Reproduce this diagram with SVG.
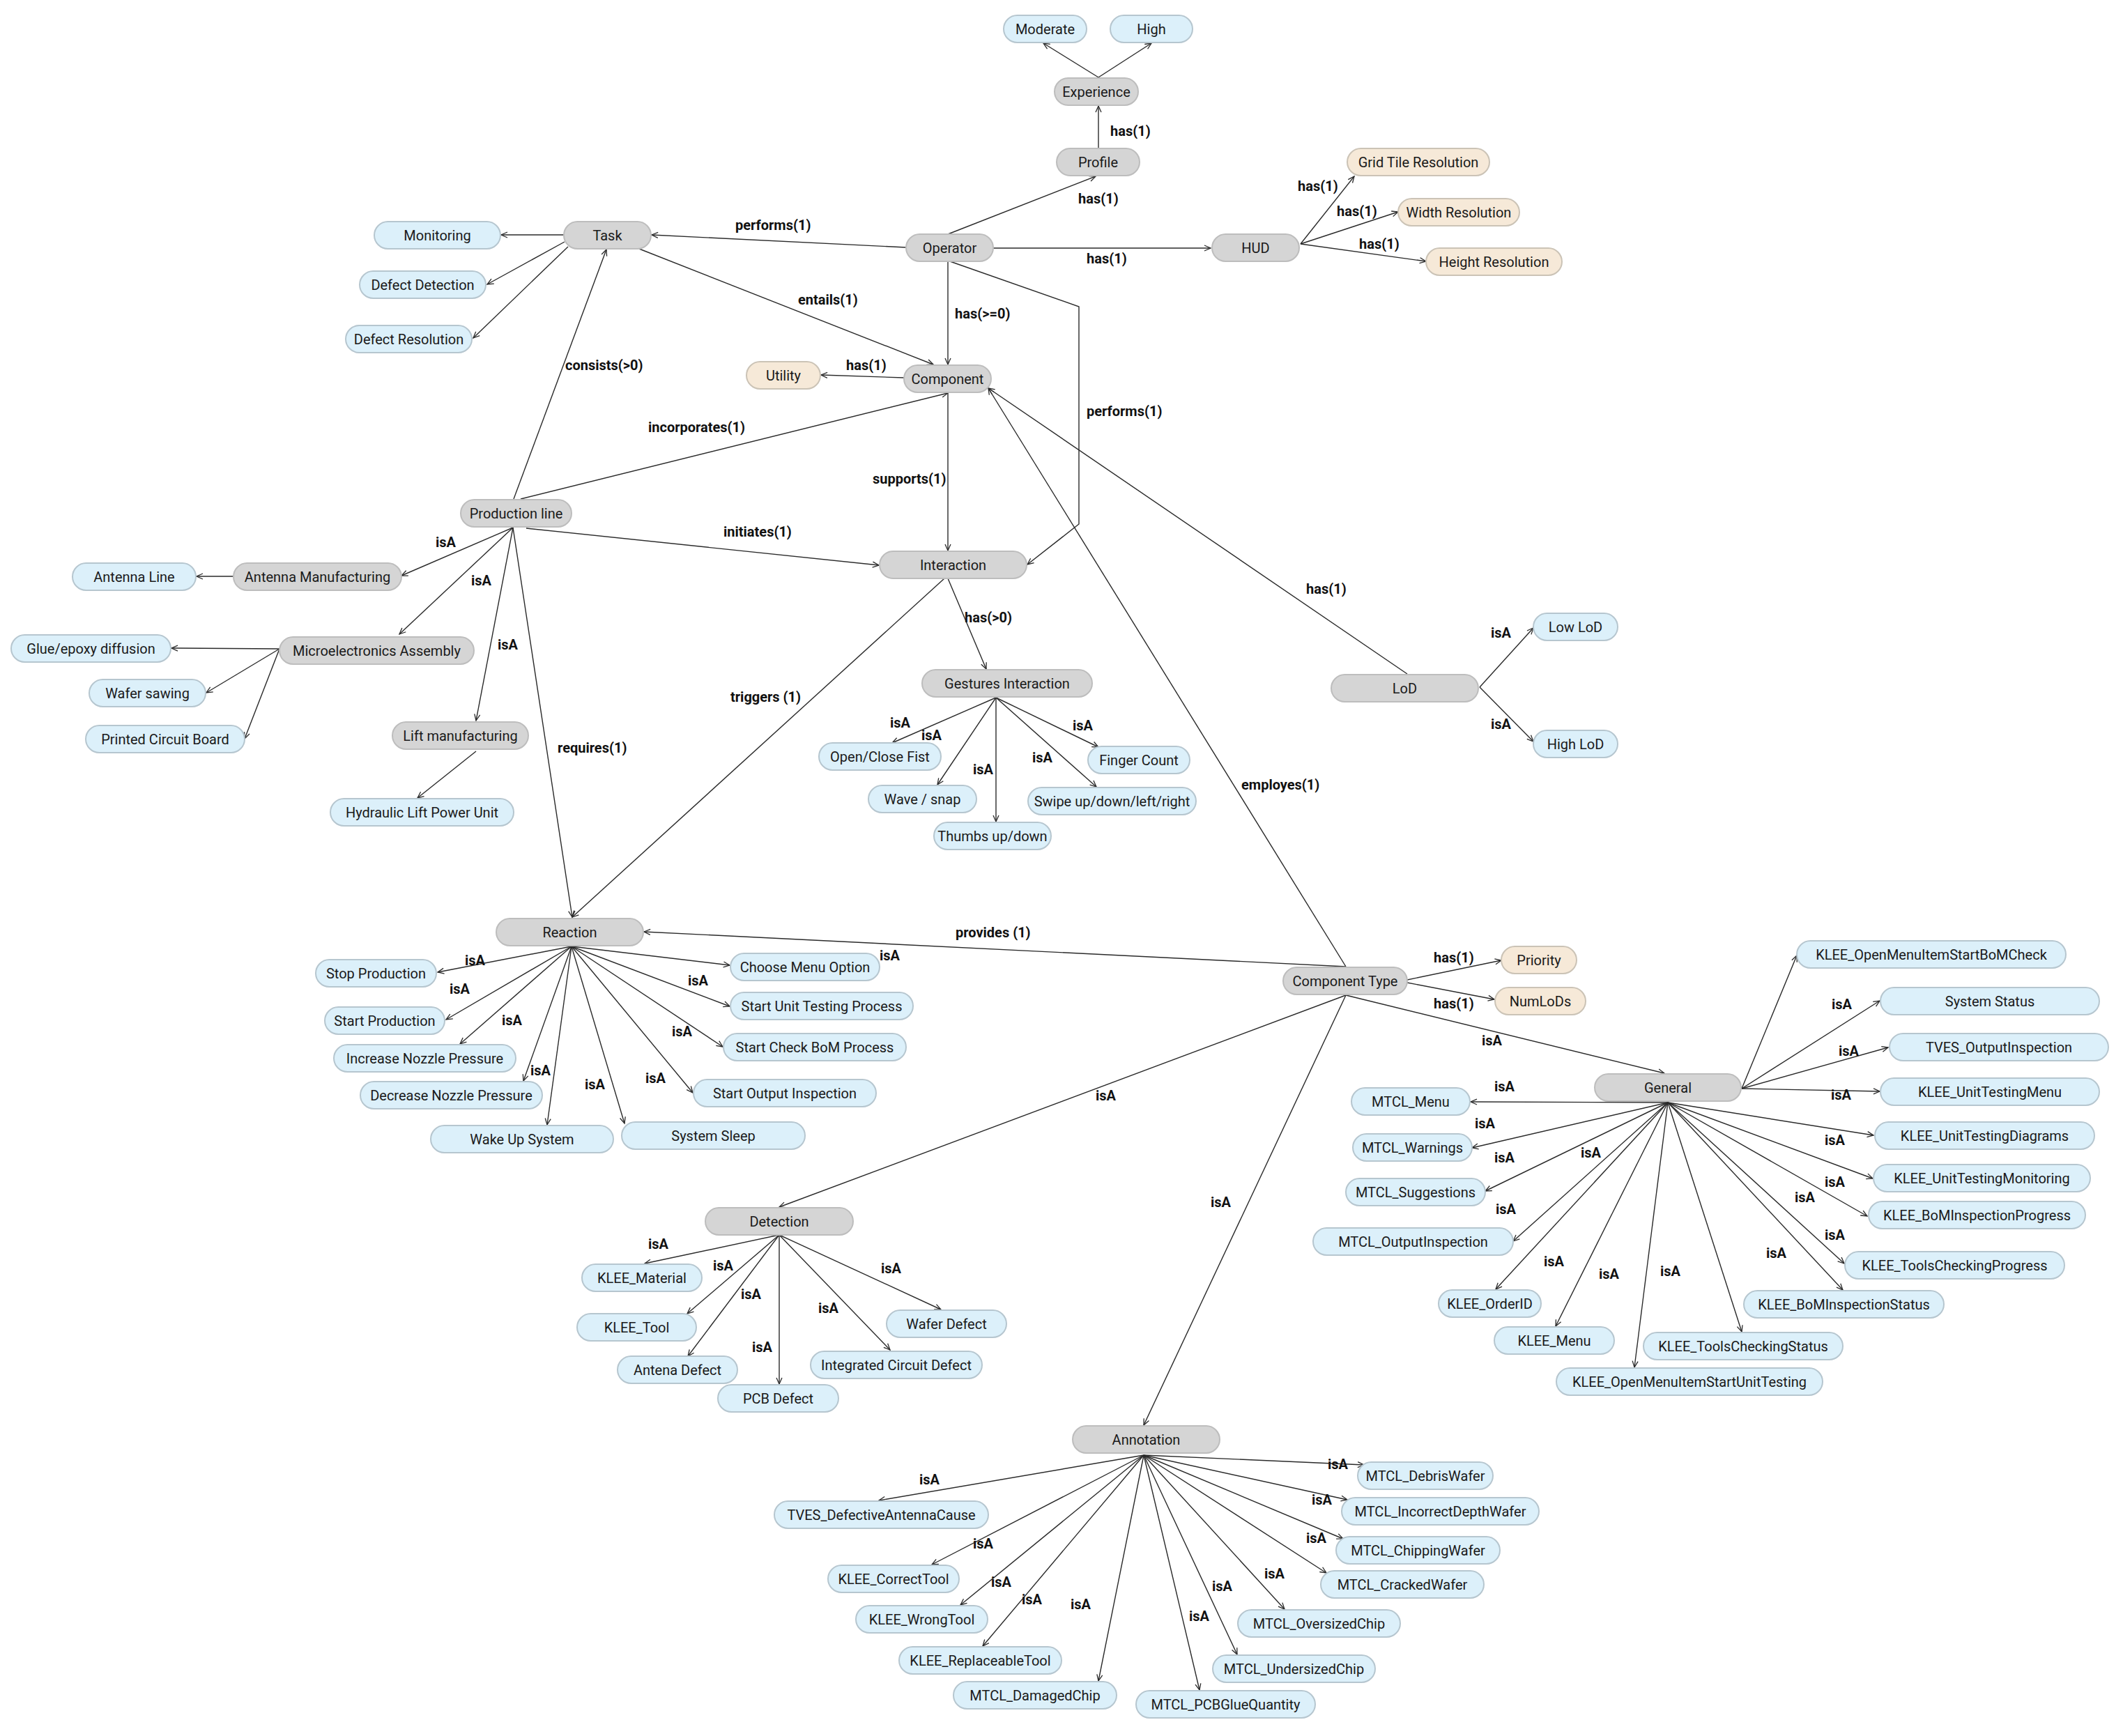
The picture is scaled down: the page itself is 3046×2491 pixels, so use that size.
<svg xmlns="http://www.w3.org/2000/svg" width="3046" height="2491" viewBox="0 0 3046 2491">
<style>
.c rect{fill:#d5d5d5;stroke:#bdbdbd;stroke-width:2}
.i rect{fill:#dcf0fa;stroke:#b6c6cf;stroke-width:2}
.p rect{fill:#f6e9d8;stroke:#cbc3b6;stroke-width:2}
.c text,.i text,.p text{font-family:Roboto,"Liberation Sans",sans-serif;font-size:20px;fill:#1a1a1a;text-anchor:middle}
#edges line,#edges polyline{stroke:#2a2a2a;stroke-width:1.4;fill:none;marker-end:url(#a)}
#labels text{font-family:Roboto,"Liberation Sans",sans-serif;font-size:20px;font-weight:bold;fill:#111}
</style>
<defs>
<marker id="a" markerWidth="12" markerHeight="12" refX="10" refY="5" orient="auto" markerUnits="userSpaceOnUse">
<path d="M1,1 L10,5 L1,9" fill="none" stroke="#2a2a2a" stroke-width="1.3"/>
</marker>
</defs>
<rect width="3046" height="2491" fill="#fff"/>
<g id="edges">
<line x1="1576" y1="111" x2="1497" y2="62"/>
<line x1="1576" y1="111" x2="1652" y2="62"/>
<line x1="1576" y1="213" x2="1576" y2="152"/>
<line x1="1360" y1="336" x2="1572" y2="253"/>
<line x1="1300" y1="355" x2="935" y2="337"/>
<line x1="1425" y1="356" x2="1737" y2="356"/>
<line x1="1866" y1="350" x2="1943" y2="253"/>
<line x1="1866" y1="350" x2="2006" y2="304"/>
<line x1="1866" y1="350" x2="2046" y2="375"/>
<line x1="809" y1="337" x2="719" y2="337"/>
<line x1="810" y1="347" x2="699" y2="408"/>
<line x1="815" y1="354" x2="679" y2="485"/>
<line x1="917" y1="357" x2="1339" y2="523"/>
<line x1="1360" y1="374" x2="1360" y2="523"/>
<polyline points="1360,374 1548,440 1548,752 1474,810"/>
<line x1="1297" y1="542" x2="1178" y2="538"/>
<line x1="1360" y1="563" x2="1360" y2="790"/>
<line x1="737" y1="716" x2="870" y2="358"/>
<line x1="747" y1="716" x2="1360" y2="564"/>
<line x1="755" y1="758" x2="1261" y2="811"/>
<line x1="736" y1="757" x2="576" y2="826"/>
<line x1="335" y1="827" x2="282" y2="827"/>
<line x1="736" y1="757" x2="573" y2="910"/>
<line x1="736" y1="757" x2="683" y2="1034"/>
<line x1="736" y1="757" x2="821" y2="1316"/>
<line x1="401" y1="931" x2="246" y2="930"/>
<line x1="401" y1="931" x2="296" y2="994"/>
<line x1="401" y1="931" x2="351" y2="1060"/>
<line x1="683" y1="1078" x2="599" y2="1145"/>
<line x1="1355" y1="830" x2="821" y2="1316"/>
<line x1="1360" y1="830" x2="1415" y2="960"/>
<line x1="1429" y1="1001" x2="1280" y2="1066"/>
<line x1="1429" y1="1001" x2="1345" y2="1126"/>
<line x1="1429" y1="1001" x2="1429" y2="1179"/>
<line x1="1429" y1="1001" x2="1573" y2="1129"/>
<line x1="1429" y1="1001" x2="1576" y2="1072"/>
<line x1="2019" y1="967" x2="1418" y2="557"/>
<line x1="2123" y1="986" x2="2200" y2="901"/>
<line x1="2123" y1="986" x2="2200" y2="1064"/>
<line x1="1931" y1="1387" x2="1418" y2="557"/>
<line x1="1931" y1="1387" x2="924" y2="1337"/>
<line x1="2019" y1="1406" x2="2154" y2="1378"/>
<line x1="2019" y1="1410" x2="2144" y2="1434"/>
<line x1="1931" y1="1428" x2="2388" y2="1540"/>
<line x1="1931" y1="1428" x2="1118" y2="1732"/>
<line x1="1931" y1="1428" x2="1641" y2="2045"/>
<line x1="820" y1="1358" x2="628" y2="1395"/>
<line x1="820" y1="1358" x2="640" y2="1463"/>
<line x1="820" y1="1358" x2="660" y2="1498"/>
<line x1="820" y1="1358" x2="751" y2="1551"/>
<line x1="820" y1="1358" x2="785" y2="1614"/>
<line x1="820" y1="1358" x2="896" y2="1612"/>
<line x1="820" y1="1358" x2="994" y2="1568"/>
<line x1="820" y1="1358" x2="1037" y2="1502"/>
<line x1="820" y1="1358" x2="1047" y2="1444"/>
<line x1="820" y1="1358" x2="1047" y2="1385"/>
<line x1="2393" y1="1582" x2="2110" y2="1581"/>
<line x1="2393" y1="1582" x2="2112" y2="1647"/>
<line x1="2393" y1="1582" x2="2131" y2="1709"/>
<line x1="2393" y1="1582" x2="2171" y2="1781"/>
<line x1="2393" y1="1582" x2="2146" y2="1850"/>
<line x1="2393" y1="1582" x2="2232" y2="1903"/>
<line x1="2393" y1="1582" x2="2345" y2="1962"/>
<line x1="2393" y1="1582" x2="2499" y2="1911"/>
<line x1="2393" y1="1582" x2="2644" y2="1851"/>
<line x1="2393" y1="1582" x2="2646" y2="1813"/>
<line x1="2393" y1="1582" x2="2679" y2="1745"/>
<line x1="2393" y1="1582" x2="2687" y2="1691"/>
<line x1="2393" y1="1582" x2="2688" y2="1629"/>
<line x1="2499" y1="1562" x2="2697" y2="1566"/>
<line x1="2499" y1="1562" x2="2709" y2="1503"/>
<line x1="2499" y1="1562" x2="2697" y2="1436"/>
<line x1="2499" y1="1562" x2="2578" y2="1371"/>
<line x1="1118" y1="1772" x2="925" y2="1813"/>
<line x1="1118" y1="1772" x2="986" y2="1885"/>
<line x1="1118" y1="1772" x2="987" y2="1946"/>
<line x1="1118" y1="1772" x2="1118" y2="1986"/>
<line x1="1118" y1="1772" x2="1277" y2="1937"/>
<line x1="1118" y1="1772" x2="1350" y2="1879"/>
<line x1="1641" y1="2088" x2="1261" y2="2153"/>
<line x1="1641" y1="2088" x2="1337" y2="2245"/>
<line x1="1641" y1="2088" x2="1378" y2="2303"/>
<line x1="1641" y1="2088" x2="1410" y2="2362"/>
<line x1="1641" y1="2088" x2="1576" y2="2412"/>
<line x1="1641" y1="2088" x2="1721" y2="2425"/>
<line x1="1641" y1="2088" x2="1775" y2="2374"/>
<line x1="1641" y1="2088" x2="1843" y2="2309"/>
<line x1="1641" y1="2088" x2="1903" y2="2257"/>
<line x1="1641" y1="2088" x2="1927" y2="2208"/>
<line x1="1641" y1="2088" x2="1933" y2="2152"/>
<line x1="1641" y1="2088" x2="1957" y2="2102"/>
</g>
<g id="labels">
<text x="1593" y="195">has(1)</text>
<text x="1547" y="292">has(1)</text>
<text x="1055" y="330">performs(1)</text>
<text x="1559" y="378">has(1)</text>
<text x="1862" y="274">has(1)</text>
<text x="1918" y="310">has(1)</text>
<text x="1950" y="357">has(1)</text>
<text x="1145" y="437">entails(1)</text>
<text x="1370" y="457">has(&gt;=0)</text>
<text x="1214" y="531">has(1)</text>
<text x="1559" y="597">performs(1)</text>
<text x="1252" y="694">supports(1)</text>
<text x="1038" y="770">initiates(1)</text>
<text x="811" y="531">consists(&gt;0)</text>
<text x="930" y="620">incorporates(1)</text>
<text x="625" y="785">isA</text>
<text x="676" y="840">isA</text>
<text x="714" y="932">isA</text>
<text x="800" y="1080">requires(1)</text>
<text x="1384" y="893">has(&gt;0)</text>
<text x="1048" y="1007">triggers (1)</text>
<text x="1874" y="852">has(1)</text>
<text x="1781" y="1133">employes(1)</text>
<text x="2139" y="915">isA</text>
<text x="2139" y="1046">isA</text>
<text x="1277" y="1044">isA</text>
<text x="1322" y="1062">isA</text>
<text x="1539" y="1048">isA</text>
<text x="1481" y="1094">isA</text>
<text x="1396" y="1111">isA</text>
<text x="1371" y="1345">provides (1)</text>
<text x="2057" y="1381">has(1)</text>
<text x="2057" y="1447">has(1)</text>
<text x="2126" y="1500">isA</text>
<text x="1572" y="1579">isA</text>
<text x="1737" y="1732">isA</text>
<text x="667" y="1385">isA</text>
<text x="645" y="1426">isA</text>
<text x="720" y="1471">isA</text>
<text x="761" y="1543">isA</text>
<text x="839" y="1563">isA</text>
<text x="926" y="1554">isA</text>
<text x="964" y="1487">isA</text>
<text x="987" y="1414">isA</text>
<text x="1262" y="1378">isA</text>
<text x="2144" y="1566">isA</text>
<text x="2116" y="1619">isA</text>
<text x="2144" y="1668">isA</text>
<text x="2268" y="1661">isA</text>
<text x="2146" y="1742">isA</text>
<text x="2215" y="1817">isA</text>
<text x="2294" y="1835">isA</text>
<text x="2382" y="1831">isA</text>
<text x="2534" y="1805">isA</text>
<text x="2618" y="1779">isA</text>
<text x="2575" y="1725">isA</text>
<text x="2618" y="1703">isA</text>
<text x="2618" y="1643">isA</text>
<text x="2627" y="1578">isA</text>
<text x="2638" y="1515">isA</text>
<text x="2628" y="1448">isA</text>
<text x="930" y="1792">isA</text>
<text x="1023" y="1823">isA</text>
<text x="1063" y="1864">isA</text>
<text x="1174" y="1884">isA</text>
<text x="1264" y="1827">isA</text>
<text x="1079" y="1940">isA</text>
<text x="1319" y="2130">isA</text>
<text x="1396" y="2222">isA</text>
<text x="1422" y="2277">isA</text>
<text x="1466" y="2302">isA</text>
<text x="1536" y="2309">isA</text>
<text x="1706" y="2326">isA</text>
<text x="1739" y="2283">isA</text>
<text x="1814" y="2265">isA</text>
<text x="1874" y="2214">isA</text>
<text x="1882" y="2159">isA</text>
<text x="1905" y="2108">isA</text>
</g>
<g id="n-experience" class="c"><rect x="1513" y="112" width="120" height="39" rx="19.5"/><text x="1573" y="139">Experience</text></g>
<g id="n-profile" class="c"><rect x="1516" y="213" width="119" height="39" rx="19.5"/><text x="1575.5" y="240">Profile</text></g>
<g id="n-operator" class="c"><rect x="1300" y="336" width="125" height="39" rx="19.5"/><text x="1362.5" y="363">Operator</text></g>
<g id="n-hud" class="c"><rect x="1739" y="336" width="125" height="39" rx="19.5"/><text x="1801.5" y="363">HUD</text></g>
<g id="n-task" class="c"><rect x="809" y="318" width="125" height="39" rx="19.5"/><text x="871.5" y="345">Task</text></g>
<g id="n-component" class="c"><rect x="1297" y="524" width="125" height="39" rx="19.5"/><text x="1359.5" y="551">Component</text></g>
<g id="n-production-line" class="c"><rect x="661" y="717" width="159" height="39" rx="19.5"/><text x="740.5" y="744">Production line</text></g>
<g id="n-antenna-manufacturing" class="c"><rect x="335" y="808" width="241" height="39" rx="19.5"/><text x="455.5" y="835">Antenna Manufacturing</text></g>
<g id="n-microelectronics" class="c"><rect x="401" y="914" width="279" height="39" rx="19.5"/><text x="540.5" y="941">Microelectronics Assembly</text></g>
<g id="n-lift" class="c"><rect x="563" y="1036" width="195" height="39" rx="19.5"/><text x="660.5" y="1063">Lift manufacturing</text></g>
<g id="n-interaction" class="c"><rect x="1262" y="791" width="211" height="39" rx="19.5"/><text x="1367.5" y="818">Interaction</text></g>
<g id="n-gestures" class="c"><rect x="1323" y="961" width="244" height="39" rx="19.5"/><text x="1445" y="988">Gestures Interaction</text></g>
<g id="n-lod" class="c"><rect x="1910" y="968" width="211" height="39" rx="19.5"/><text x="2015.5" y="995">LoD</text></g>
<g id="n-reaction" class="c"><rect x="712" y="1318" width="211" height="39" rx="19.5"/><text x="817.5" y="1345">Reaction</text></g>
<g id="n-component-type" class="c"><rect x="1841" y="1388" width="178" height="39" rx="19.5"/><text x="1930" y="1415">Component Type</text></g>
<g id="n-general" class="c"><rect x="2288" y="1541" width="210" height="39" rx="19.5"/><text x="2393" y="1568">General</text></g>
<g id="n-detection" class="c"><rect x="1012" y="1733" width="212" height="39" rx="19.5"/><text x="1118" y="1760">Detection</text></g>
<g id="n-annotation" class="c"><rect x="1539" y="2046" width="211" height="39" rx="19.5"/><text x="1644.5" y="2073">Annotation</text></g>
<g id="n-moderate" class="i"><rect x="1440" y="22" width="119" height="39" rx="19.5"/><text x="1499.5" y="49">Moderate</text></g>
<g id="n-high" class="i"><rect x="1593" y="22" width="118" height="39" rx="19.5"/><text x="1652" y="49">High</text></g>
<g id="n-monitoring" class="i"><rect x="537" y="318" width="181" height="39" rx="19.5"/><text x="627.5" y="345">Monitoring</text></g>
<g id="n-defect-detection" class="i"><rect x="516" y="389" width="181" height="39" rx="19.5"/><text x="606.5" y="416">Defect Detection</text></g>
<g id="n-defect-resolution" class="i"><rect x="496" y="467" width="181" height="39" rx="19.5"/><text x="586.5" y="494">Defect Resolution</text></g>
<g id="n-antenna-line" class="i"><rect x="104" y="808" width="177" height="39" rx="19.5"/><text x="192.5" y="835">Antenna Line</text></g>
<g id="n-glue" class="i"><rect x="16" y="911" width="229" height="39" rx="19.5"/><text x="130.5" y="938">Glue/epoxy diffusion</text></g>
<g id="n-wafer-sawing" class="i"><rect x="128" y="975" width="167" height="39" rx="19.5"/><text x="211.5" y="1002">Wafer sawing</text></g>
<g id="n-pcb" class="i"><rect x="123" y="1041" width="228" height="39" rx="19.5"/><text x="237" y="1068">Printed Circuit Board</text></g>
<g id="n-hydraulic" class="i"><rect x="474" y="1146" width="263" height="39" rx="19.5"/><text x="605.5" y="1173">Hydraulic Lift Power Unit</text></g>
<g id="n-fist" class="i"><rect x="1175" y="1066" width="175" height="39" rx="19.5"/><text x="1262.5" y="1093">Open/Close Fist</text></g>
<g id="n-finger" class="i"><rect x="1561" y="1071" width="146" height="39" rx="19.5"/><text x="1634" y="1098">Finger Count</text></g>
<g id="n-wave" class="i"><rect x="1246" y="1127" width="155" height="39" rx="19.5"/><text x="1323.5" y="1154">Wave / snap</text></g>
<g id="n-swipe" class="i"><rect x="1475" y="1130" width="241" height="39" rx="19.5"/><text x="1595.5" y="1157">Swipe up/down/left/right</text></g>
<g id="n-thumbs" class="i"><rect x="1340" y="1180" width="168" height="39" rx="19.5"/><text x="1424" y="1207">Thumbs up/down</text></g>
<g id="n-low-lod" class="i"><rect x="2200" y="880" width="121" height="39" rx="19.5"/><text x="2260.5" y="907">Low LoD</text></g>
<g id="n-high-lod" class="i"><rect x="2200" y="1048" width="121" height="39" rx="19.5"/><text x="2260.5" y="1075">High LoD</text></g>
<g id="n-stop-production" class="i"><rect x="453" y="1377" width="173" height="39" rx="19.5"/><text x="539.5" y="1404">Stop Production</text></g>
<g id="n-start-production" class="i"><rect x="466" y="1445" width="172" height="39" rx="19.5"/><text x="552" y="1472">Start Production</text></g>
<g id="n-increase" class="i"><rect x="479" y="1499" width="261" height="39" rx="19.5"/><text x="609.5" y="1526">Increase Nozzle Pressure</text></g>
<g id="n-decrease" class="i"><rect x="517" y="1552" width="261" height="39" rx="19.5"/><text x="647.5" y="1579">Decrease Nozzle Pressure</text></g>
<g id="n-wake" class="i"><rect x="618" y="1615" width="262" height="39" rx="19.5"/><text x="749" y="1642">Wake Up System</text></g>
<g id="n-sleep" class="i"><rect x="892" y="1610" width="263" height="39" rx="19.5"/><text x="1023.5" y="1637">System Sleep</text></g>
<g id="n-output-insp" class="i"><rect x="995" y="1549" width="262" height="39" rx="19.5"/><text x="1126" y="1576">Start Output Inspection</text></g>
<g id="n-bom" class="i"><rect x="1038" y="1483" width="262" height="39" rx="19.5"/><text x="1169" y="1510">Start Check BoM Process</text></g>
<g id="n-unit-testing" class="i"><rect x="1048" y="1424" width="262" height="39" rx="19.5"/><text x="1179" y="1451">Start Unit Testing Process</text></g>
<g id="n-choose-menu" class="i"><rect x="1048" y="1368" width="214" height="39" rx="19.5"/><text x="1155" y="1395">Choose Menu Option</text></g>
<g id="n-klee-bomcheck" class="i"><rect x="2578" y="1350" width="386" height="39" rx="19.5"/><text x="2771" y="1377">KLEE_OpenMenuItemStartBoMCheck</text></g>
<g id="n-system-status" class="i"><rect x="2698" y="1417" width="314" height="39" rx="19.5"/><text x="2855" y="1444">System Status</text></g>
<g id="n-tves-output" class="i"><rect x="2711" y="1483" width="314" height="39" rx="19.5"/><text x="2868" y="1510">TVES_OutputInspection</text></g>
<g id="n-klee-utmenu" class="i"><rect x="2698" y="1547" width="314" height="39" rx="19.5"/><text x="2855" y="1574">KLEE_UnitTestingMenu</text></g>
<g id="n-klee-utdiagrams" class="i"><rect x="2690" y="1610" width="315" height="39" rx="19.5"/><text x="2847.5" y="1637">KLEE_UnitTestingDiagrams</text></g>
<g id="n-klee-utmonitoring" class="i"><rect x="2688" y="1671" width="311" height="39" rx="19.5"/><text x="2843.5" y="1698">KLEE_UnitTestingMonitoring</text></g>
<g id="n-klee-bomprogress" class="i"><rect x="2681" y="1724" width="311" height="39" rx="19.5"/><text x="2836.5" y="1751">KLEE_BoMInspectionProgress</text></g>
<g id="n-klee-toolsprogress" class="i"><rect x="2647" y="1796" width="315" height="39" rx="19.5"/><text x="2804.5" y="1823">KLEE_ToolsCheckingProgress</text></g>
<g id="n-klee-bomstatus" class="i"><rect x="2502" y="1852" width="287" height="39" rx="19.5"/><text x="2645.5" y="1879">KLEE_BoMInspectionStatus</text></g>
<g id="n-klee-toolsstatus" class="i"><rect x="2358" y="1912" width="286" height="39" rx="19.5"/><text x="2501" y="1939">KLEE_ToolsCheckingStatus</text></g>
<g id="n-klee-utstart" class="i"><rect x="2233" y="1963" width="382" height="39" rx="19.5"/><text x="2424" y="1990">KLEE_OpenMenuItemStartUnitTesting</text></g>
<g id="n-klee-menu" class="i"><rect x="2144" y="1904" width="172" height="39" rx="19.5"/><text x="2230" y="1931">KLEE_Menu</text></g>
<g id="n-klee-orderid" class="i"><rect x="2064" y="1851" width="147" height="39" rx="19.5"/><text x="2137.5" y="1878">KLEE_OrderID</text></g>
<g id="n-mtcl-output" class="i"><rect x="1884" y="1762" width="287" height="39" rx="19.5"/><text x="2027.5" y="1789">MTCL_OutputInspection</text></g>
<g id="n-mtcl-suggestions" class="i"><rect x="1931" y="1691" width="200" height="39" rx="19.5"/><text x="2031" y="1718">MTCL_Suggestions</text></g>
<g id="n-mtcl-warnings" class="i"><rect x="1941" y="1627" width="171" height="39" rx="19.5"/><text x="2026.5" y="1654">MTCL_Warnings</text></g>
<g id="n-mtcl-menu" class="i"><rect x="1939" y="1561" width="170" height="39" rx="19.5"/><text x="2024" y="1588">MTCL_Menu</text></g>
<g id="n-klee-material" class="i"><rect x="835" y="1814" width="172" height="39" rx="19.5"/><text x="921" y="1841">KLEE_Material</text></g>
<g id="n-klee-tool" class="i"><rect x="828" y="1885" width="171" height="39" rx="19.5"/><text x="913.5" y="1912">KLEE_Tool</text></g>
<g id="n-antena-defect" class="i"><rect x="886" y="1946" width="172" height="39" rx="19.5"/><text x="972" y="1973">Antena Defect</text></g>
<g id="n-pcb-defect" class="i"><rect x="1030" y="1987" width="173" height="39" rx="19.5"/><text x="1116.5" y="2014">PCB Defect</text></g>
<g id="n-ic-defect" class="i"><rect x="1163" y="1939" width="246" height="39" rx="19.5"/><text x="1286" y="1966">Integrated Circuit Defect</text></g>
<g id="n-wafer-defect" class="i"><rect x="1272" y="1880" width="172" height="39" rx="19.5"/><text x="1358" y="1907">Wafer Defect</text></g>
<g id="n-tves-antenna" class="i"><rect x="1111" y="2154" width="307" height="39" rx="19.5"/><text x="1264.5" y="2181">TVES_DefectiveAntennaCause</text></g>
<g id="n-klee-correct" class="i"><rect x="1188" y="2246" width="188" height="39" rx="19.5"/><text x="1282" y="2273">KLEE_CorrectTool</text></g>
<g id="n-klee-wrong" class="i"><rect x="1228" y="2304" width="189" height="39" rx="19.5"/><text x="1322.5" y="2331">KLEE_WrongTool</text></g>
<g id="n-klee-replaceable" class="i"><rect x="1290" y="2363" width="233" height="39" rx="19.5"/><text x="1406.5" y="2390">KLEE_ReplaceableTool</text></g>
<g id="n-mtcl-damaged" class="i"><rect x="1368" y="2413" width="234" height="39" rx="19.5"/><text x="1485" y="2440">MTCL_DamagedChip</text></g>
<g id="n-mtcl-pcbglue" class="i"><rect x="1630" y="2426" width="257" height="39" rx="19.5"/><text x="1758.5" y="2453">MTCL_PCBGlueQuantity</text></g>
<g id="n-mtcl-undersized" class="i"><rect x="1740" y="2375" width="233" height="39" rx="19.5"/><text x="1856.5" y="2402">MTCL_UndersizedChip</text></g>
<g id="n-mtcl-oversized" class="i"><rect x="1776" y="2310" width="233" height="39" rx="19.5"/><text x="1892.5" y="2337">MTCL_OversizedChip</text></g>
<g id="n-mtcl-cracked" class="i"><rect x="1895" y="2254" width="234" height="39" rx="19.5"/><text x="2012" y="2281">MTCL_CrackedWafer</text></g>
<g id="n-mtcl-chipping" class="i"><rect x="1917" y="2205" width="235" height="39" rx="19.5"/><text x="2034.5" y="2232">MTCL_ChippingWafer</text></g>
<g id="n-mtcl-incorrect" class="i"><rect x="1925" y="2149" width="283" height="39" rx="19.5"/><text x="2066.5" y="2176">MTCL_IncorrectDepthWafer</text></g>
<g id="n-mtcl-debris" class="i"><rect x="1948" y="2098" width="194" height="39" rx="19.5"/><text x="2045" y="2125">MTCL_DebrisWafer</text></g>
<g id="n-grid-tile" class="p"><rect x="1933" y="213" width="204" height="39" rx="19.5"/><text x="2035" y="240">Grid Tile Resolution</text></g>
<g id="n-width-res" class="p"><rect x="2006" y="285" width="174" height="39" rx="19.5"/><text x="2093" y="312">Width Resolution</text></g>
<g id="n-height-res" class="p"><rect x="2046" y="356" width="195" height="39" rx="19.5"/><text x="2143.5" y="383">Height Resolution</text></g>
<g id="n-utility" class="p"><rect x="1071" y="519" width="106" height="39" rx="19.5"/><text x="1124" y="546">Utility</text></g>
<g id="n-priority" class="p"><rect x="2154" y="1358" width="108" height="39" rx="19.5"/><text x="2208" y="1385">Priority</text></g>
<g id="n-numlods" class="p"><rect x="2145" y="1417" width="130" height="39" rx="19.5"/><text x="2210" y="1444">NumLoDs</text></g>
</svg>
